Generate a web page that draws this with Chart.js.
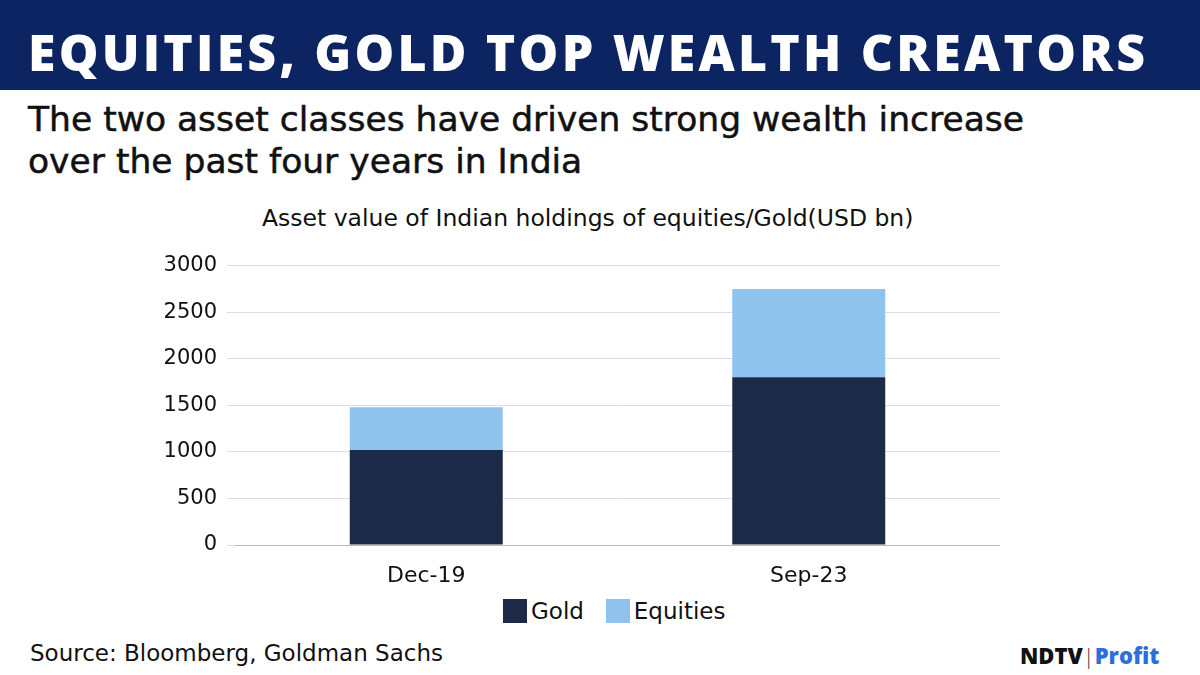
<!DOCTYPE html>
<html><head><meta charset="utf-8">
<script src="https://cdn.jsdelivr.net/npm/chart.js@4"></script>
<style>
body{margin:0;width:1200px;height:675px;background:#fff;position:relative;overflow:hidden;font-family:"DejaVu Sans",sans-serif}
#hdr{position:absolute;left:0;top:0;width:1200px;height:90px;background:#0c2461}
#hdr div{position:absolute;left:28px;top:18px;color:#fff;font:800 50px "Open Sans",sans-serif;letter-spacing:3.2px}
.t{position:absolute;color:#111;white-space:nowrap}
#cv{position:absolute;left:150px;top:243px}
.sw{display:inline-block;width:24px;height:24px;vertical-align:-4px;margin-right:4px}
</style></head><body>
<div id="hdr"><div>EQUITIES, GOLD TOP WEALTH CREATORS</div></div>
<div class="t" style="left:28px;top:98px;font:400 34.5px 'DejaVu Sans',sans-serif;line-height:42px;-webkit-text-stroke:0.5px #111">The two asset classes have driven strong wealth increase<br>over the past four years in India</div>
<div class="t" style="left:262px;top:204px;font:400 23.5px 'DejaVu Sans',sans-serif">Asset value of Indian holdings of equities/Gold(USD bn)</div>
<canvas id="cv" width="850" height="347" style="width:850px;height:347px"></canvas>
<div class="t" style="left:503px;top:598px;font:400 23px 'DejaVu Sans',sans-serif"><span class="sw" style="background:#1c2a48"></span>Gold&nbsp;&nbsp;&nbsp;<span class="sw" style="background:#8fc3ee"></span>Equities</div>
<div class="t" style="left:30px;top:640px;font:400 23px 'DejaVu Sans',sans-serif">Source: Bloomberg, Goldman Sachs</div>
<div class="t" style="left:1020px;top:640px;font:900 22px 'Open Sans',sans-serif;color:#111">NDTV<span style="color:#333;font-weight:300">|</span><span style="color:#2a6fdb;font-weight:800">Profit</span></div>
<script>
const categories=["Dec-19","Sep-23"];
const gold=[1020,1800];
const equities=[460,950];
const yTicks=[0,500,1000,1500,2000,2500,3000];
new Chart(document.getElementById('cv'),{type:'bar',
data:{labels:categories,datasets:[
{label:'Gold',data:gold,backgroundColor:'#1c2a48',barPercentage:0.8,categoryPercentage:0.5},
{label:'Equities',data:equities,backgroundColor:'#8fc3ee',barPercentage:0.8,categoryPercentage:0.5}]},
options:{responsive:false,animation:false,layout:{padding:{top:15,right:0,bottom:0,left:0}},
plugins:{legend:{display:false},tooltip:{enabled:false}},
scales:{x:{stacked:true,grid:{display:false},border:{color:'#bbb'},ticks:{color:'#111',font:{size:22,family:'DejaVu Sans'},padding:10},afterFit(s){s.height=45;}},
y:{stacked:true,min:0,max:3000,afterBuildTicks(s){s.ticks=yTicks.map(v=>({value:v}));},grid:{color:'#ddd'},border:{display:false},ticks:{color:'#111',font:{size:21,family:'DejaVu Sans'},padding:10,callback:v=>String(v)},afterFit(s){s.width=85;}}}}});
</script></body></html>
